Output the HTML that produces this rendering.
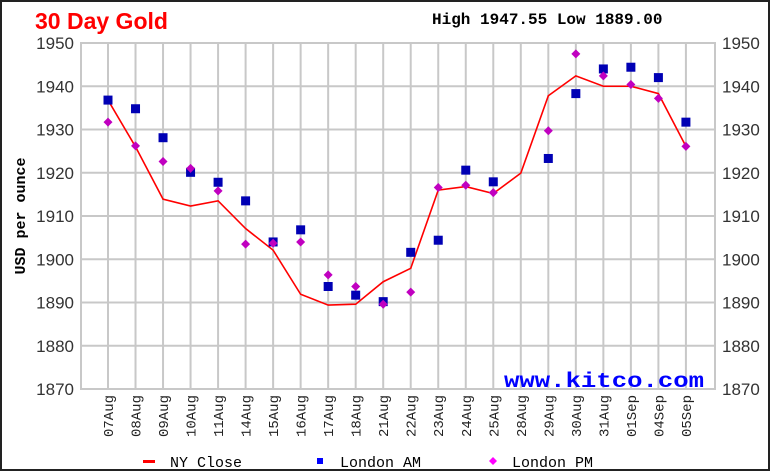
<!DOCTYPE html>
<html><head><meta charset="utf-8"><style>
html,body{margin:0;padding:0;background:#fff}
svg{display:block}
.mono{font-family:"Liberation Mono","DejaVu Sans Mono",monospace}
.sans{font-family:"Liberation Sans","DejaVu Sans",sans-serif}
</style></head><body>
<svg id="chart" width="770" height="471" viewBox="0 0 770 471" xmlns="http://www.w3.org/2000/svg">
<rect x="1" y="1" width="768" height="469" fill="#fff" stroke="#222" stroke-width="2"/>
<text class="sans" x="35" y="29" font-weight="bold" font-size="23" fill="#f00">30 Day Gold</text>
<text class="mono" x="432" y="24" font-weight="bold" font-size="16" fill="#000">High 1947.55 Low 1889.00</text>
<text class="mono" x="20" y="221" transform="rotate(-90 20 216)" text-anchor="middle" font-weight="bold" font-size="15" fill="#000">USD per ounce</text>
<g id="grid"></g>
<g id="yticks"></g>
<g id="xticks"></g>
<rect x="81" y="43" width="634" height="346" fill="none" stroke="#c8c8c8" stroke-width="2"/>
<text class="mono" x="504" y="387" font-weight="bold" font-size="21" textLength="200" lengthAdjust="spacingAndGlyphs" fill="#00f">www.kitco.com</text>
<g id="series"></g>
<g>
<g><rect x="143" y="460" width="12" height="3" fill="#f00"/><text class="mono" x="170" y="467" font-size="15" fill="#000">NY Close</text></g>
<g><rect x="317" y="458" width="6" height="6" fill="#00f"/><text class="mono" x="340" y="467" font-size="15" fill="#000">London AM</text></g>
<g><path d="M493 457 L497 461 L493 465 L489 461 Z" fill="#f0f"/><text class="mono" x="512" y="467" font-size="15" fill="#000">London PM</text></g>
</g>
</svg>
<script>
const categories=["07Aug","08Aug","09Aug","10Aug","11Aug","14Aug","15Aug","16Aug","17Aug","18Aug","21Aug","22Aug","23Aug","24Aug","25Aug","28Aug","29Aug","30Aug","31Aug","01Sep","04Sep","05Sep"];
const nyClose=[1936.8,1926.0,1913.9,1912.3,1913.5,1907.1,1902.1,1891.9,1889.4,1889.6,1894.8,1897.9,1916.0,1916.8,1915.2,1919.9,1937.8,1942.4,1940.0,1940.0,1938.3,1926.1];
const londonAM=[1936.8,1934.8,1928.1,1920.1,1917.8,1913.5,1904.0,1906.8,1893.7,1891.7,1890.2,1901.6,1904.4,1920.6,1917.9,null,1923.3,1938.3,1944.0,1944.4,1942.0,1931.7];
const londonPM=[1931.7,1926.2,1922.6,1921.0,1915.8,1903.5,1903.7,1904.0,1896.4,1893.7,1889.6,1892.4,1916.6,1917.1,1915.4,null,1929.7,1947.5,1942.4,1940.4,1937.2,1926.1];
const yTicks=[1870,1880,1890,1900,1910,1920,1930,1940,1950];
const NS="http://www.w3.org/2000/svg";
const X0=108,DX=27.52,YB=389,YT=43,VMIN=1870,VMAX=1950;
function xs(i){return X0+i*DX;}
function ys(v){return YB-(v-VMIN)/(VMAX-VMIN)*(YB-YT);}
function mk(tag,attrs,parent){const e=document.createElementNS(NS,tag);for(const k in attrs)e.setAttribute(k,attrs[k]);parent.appendChild(e);return e;}
const grid=document.getElementById('grid'),yt=document.getElementById('yticks'),xt=document.getElementById('xticks'),ser=document.getElementById('series');
yTicks.forEach(v=>{
  const l=mk('line',{x1:81,x2:715,y1:ys(v),y2:ys(v),stroke:'#c8c8c8','stroke-width':2},grid);
  
  
  const a=mk('text',{x:74,y:ys(v)+6,'text-anchor':'end',class:'sans','font-size':17,fill:'#333'},yt);a.textContent=v;
  
  
  const b=mk('text',{x:722,y:ys(v)+6,class:'sans','font-size':17,fill:'#333'},yt);b.textContent=v;
  
  
});
categories.forEach((c,i)=>{
  const x=xs(i);
  const l=mk('line',{x1:x,x2:x,y1:43,y2:389,stroke:'#c8c8c8','stroke-width':2},grid);
  
  
  const t=mk('text',{x:x+5,y:395,'text-anchor':'end',class:'mono','font-size':14,fill:'#222',transform:`rotate(-90 ${x+5} 395)`},xt);t.textContent=c;
  
  
});
const pts=nyClose.map((v,i)=>xs(i)+','+ys(v)).join(' ');
const pl=mk('polyline',{points:pts,fill:'none',stroke:'#f00','stroke-width':1.6},ser);


londonAM.forEach((v,i)=>{if(v==null)return;
  const r=mk('rect',{x:xs(i)-4.5,y:ys(v)-4.5,width:9,height:9,fill:'#0000b4'},ser);
  
  
});
londonPM.forEach((v,i)=>{if(v==null)return;
  const x=xs(i),y=ys(v);
  const p=mk('path',{d:`M${x} ${y-4.5} L${x+4.5} ${y} L${x} ${y+4.5} L${x-4.5} ${y} Z`,fill:'#c000c0'},ser);
  
  
});
</script>
</body></html>
